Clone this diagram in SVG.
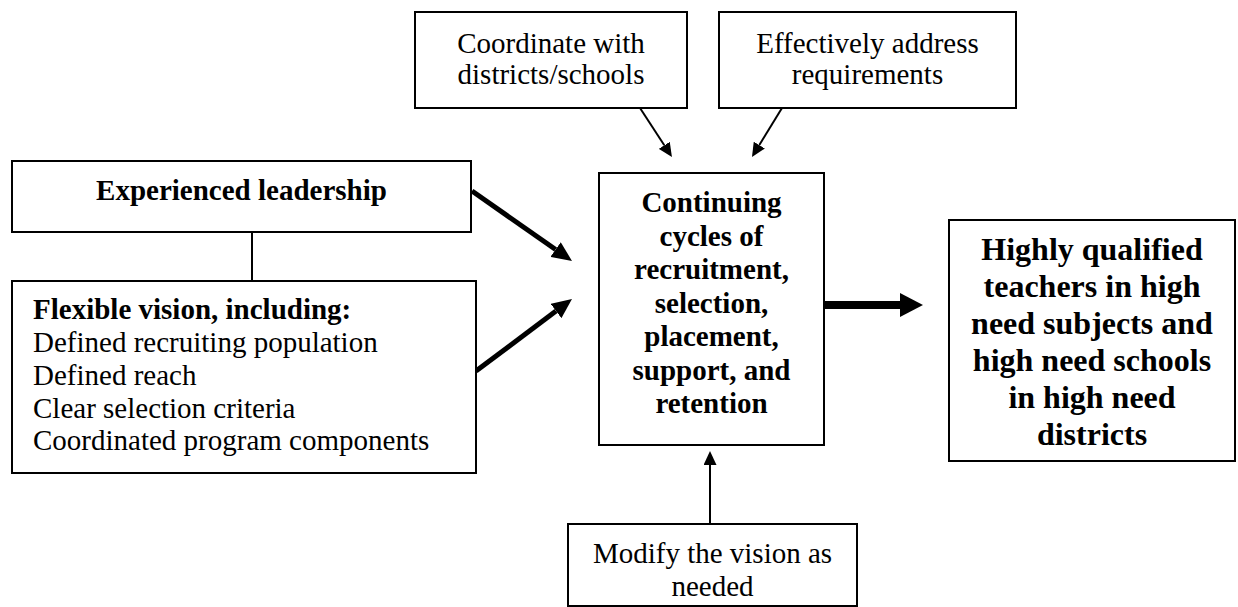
<svg xmlns="http://www.w3.org/2000/svg" width="1238" height="607" viewBox="0 0 1238 607">
<style>
.box{fill:#fff;stroke:#000;stroke-width:2}
.t{font-family:"Liberation Serif","Times New Roman",serif;font-size:29px;fill:#000}
.b{font-weight:bold}
.c{text-anchor:middle}
.big{font-size:32px}
.ln{stroke:#000;fill:none}
</style>
<defs>
<marker id="ahS" markerUnits="userSpaceOnUse" markerWidth="14" markerHeight="13" refX="0" refY="6.5" orient="auto" viewBox="0 0 14 13"><path d="M0,0 L14,6.5 L0,13 z" fill="#000"/></marker>
<marker id="ahM" markerUnits="userSpaceOnUse" markerWidth="20" markerHeight="18" refX="0" refY="9" orient="auto" viewBox="0 0 20 18"><path d="M0,0 L20,9 L0,18 z" fill="#000"/></marker>
<marker id="ahL" markerUnits="userSpaceOnUse" markerWidth="23" markerHeight="24" refX="0" refY="12" orient="auto" viewBox="0 0 23 24"><path d="M0,0 L23,12 L0,24 z" fill="#000"/></marker>
</defs>
<rect width="1238" height="607" fill="#fff"/>
<g id="connectors">
<line class="ln" x1="252" y1="232" x2="252" y2="281" stroke-width="2"/>
<line class="ln" x1="472" y1="191" x2="555.6" y2="249.5" stroke-width="5" marker-end="url(#ahM)"/>
<line class="ln" x1="476" y1="371" x2="556" y2="311" stroke-width="5" marker-end="url(#ahM)"/>
<line class="ln" x1="824" y1="305" x2="900" y2="305" stroke-width="8" marker-end="url(#ahL)"/>
<line class="ln" x1="710" y1="524" x2="710" y2="465" stroke-width="2" marker-end="url(#ahS)"/>
<line class="ln" x1="640" y1="108" x2="664.3" y2="145.3" stroke-width="2" marker-end="url(#ahS)"/>
<line class="ln" x1="782" y1="108" x2="759.3" y2="145.1" stroke-width="2" marker-end="url(#ahS)"/>
</g>
<g id="coordinate">
<rect class="box" x="415" y="12" width="272" height="96"/>
<text class="t c" x="551" y="53">Coordinate with</text>
<text class="t c" x="551" y="84">districts/schools</text>
</g>
<g id="address">
<rect class="box" x="719" y="12" width="297" height="96"/>
<text class="t c" x="867.5" y="53">Effectively address</text>
<text class="t c" x="867.5" y="84">requirements</text>
</g>
<g id="leadership">
<rect class="box" x="12" y="161" width="459" height="71"/>
<text class="t b c" x="241.5" y="200">Experienced leadership</text>
</g>
<g id="vision">
<rect class="box" x="12" y="281" width="464" height="192"/>
<text class="t b" x="33" y="319">Flexible vision, including:</text>
<text class="t" x="33" y="352">Defined recruiting population</text>
<text class="t" x="33" y="385">Defined reach</text>
<text class="t" x="33" y="418">Clear selection criteria</text>
<text class="t" x="33" y="450">Coordinated program components</text>
</g>
<g id="cycles">
<rect class="box" x="599" y="173" width="225" height="272"/>
<text class="t b c" x="711.5" y="212">Continuing</text>
<text class="t b c" x="711.5" y="245.5">cycles of</text>
<text class="t b c" x="711.5" y="279">recruitment,</text>
<text class="t b c" x="711.5" y="312.5">selection,</text>
<text class="t b c" x="711.5" y="346">placement,</text>
<text class="t b c" x="711.5" y="379.5">support, and</text>
<text class="t b c" x="711.5" y="413">retention</text>
</g>
<g id="outcome">
<rect class="box" x="949" y="220" width="286" height="241"/>
<text class="t b c big" x="1092" y="260">Highly qualified</text>
<text class="t b c big" x="1092" y="297">teachers in high</text>
<text class="t b c big" x="1092" y="334">need subjects and</text>
<text class="t b c big" x="1092" y="371">high need schools</text>
<text class="t b c big" x="1092" y="408">in high need</text>
<text class="t b c big" x="1092" y="445">districts</text>
</g>
<g id="modify">
<rect class="box" x="568" y="524" width="289" height="82"/>
<text class="t c" x="712.5" y="563">Modify the vision as</text>
<text class="t c" x="712.5" y="596">needed</text>
</g>
</svg>
